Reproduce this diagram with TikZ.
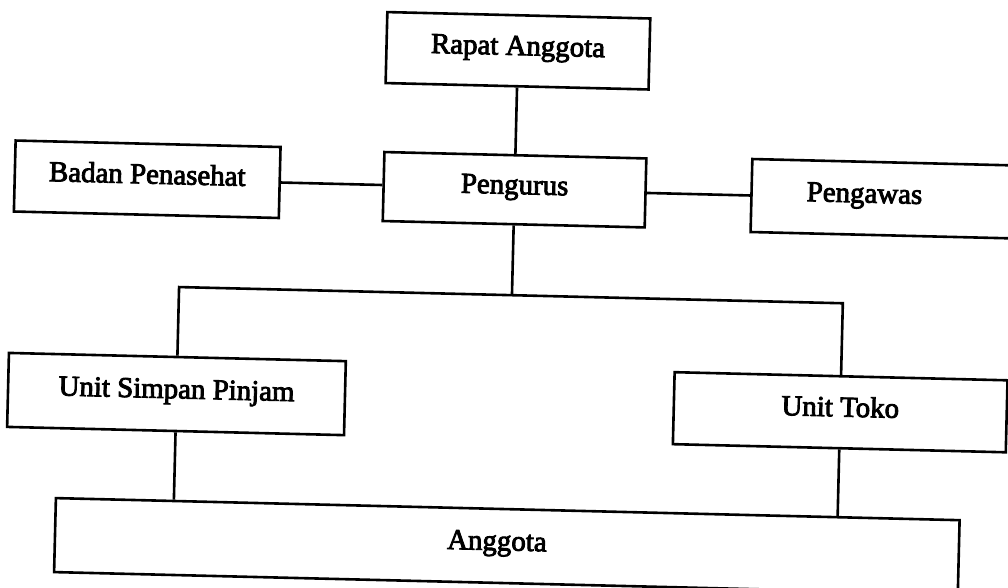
\documentclass[tikz,border=0pt]{standalone}
\usepackage{fontspec}
\setmainfont{Liberation Serif}
\newfontfamily\heavyserif{Liberation Serif}[FakeBold=3]
\begin{document}
\begin{tikzpicture}[x=1bp,y=-1bp,
  orgbox/.style={draw=black,line width=2.6bp,rectangle,inner sep=0pt,
    font=\heavyserif\fontsize{29}{34}\selectfont,text height=0.86em,text depth=0em},
  conn/.style={draw=black,line width=2.6bp}]
\clip (0,0) rectangle (1008,588);
\fill[white] (0,0) rectangle (1008,588);
\begin{scope}[rotate around={-1.4:(504,294)},transform shape]
\node[orgbox,minimum width=263bp,minimum height=71bp] (ra) at (512,50.5) {Rapat Anggota};
\node[orgbox,minimum width=262bp,minimum height=69bp] (pg) at (512,189.5) {Pengurus};
\node[orgbox,minimum width=265bp,minimum height=71bp] (bp) at (144.5,188) {Badan Penasehat};
\node[orgbox,minimum width=271bp,minimum height=73bp] (pw) at (884.5,189.5) {Pengawas\hspace*{45bp}};
\node[orgbox,minimum width=337bp,minimum height=74bp] (usp) at (179,402) {Unit Simpan Pinjam};
\node[orgbox,minimum width=333bp,minimum height=72bp] (tk) at (843,404) {Unit Toko};
\node[orgbox,minimum width=904bp,minimum height=74bp] (ang) at (513,546) {Anggota\hspace*{20bp}};
\coordinate (bus) at (512,295);
\draw[conn] (ra.south) -- (pg.north);
\draw[conn] (bp.east) -- (bp.east -| pg.west);
\draw[conn] (pg.east) -- (pg.east -| pw.west);
\draw[conn] (pg.south) -- (bus);
\draw[conn] (usp.north) |- (bus) -| (tk.north);
\draw[conn] (usp.south) -- (usp.south |- ang.north);
\draw[conn] (tk.south) -- (tk.south |- ang.north);
\end{scope}
\end{tikzpicture}
\end{document}
